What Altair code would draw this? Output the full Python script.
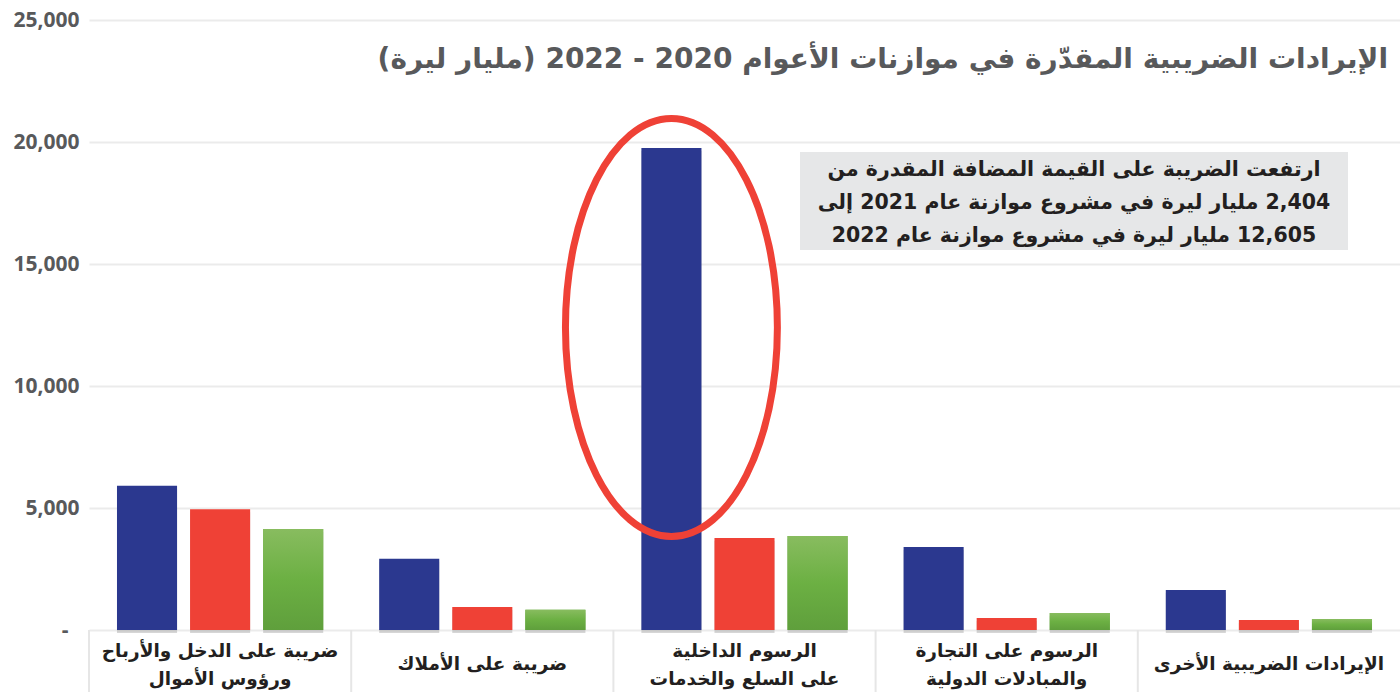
import altair as alt
import pandas as pd

RLE, PDF = "\u202b", "\u202c"


def rtl(s):
    return "\n".join(RLE + line + PDF for line in s.split("\n"))


categories = [
    "ضريبة على الدخل والأرباح\nورؤوس الأموال",
    "ضريبة على الأملاك",
    "الرسوم الداخلية\nعلى السلع والخدمات",
    "الرسوم على التجارة\nوالمبادلات الدولية",
    "الإيرادات الضريبية الأخرى",
]
series = ["2022", "2021", "2020"]
values_2022 = [5910, 2920, 19750, 3400, 1640]
values_2021 = [4950, 940, 3770, 490, 410]
values_2020 = [4140, 830, 3850, 700, 450]
y_ticks = [0, 5000, 10000, 15000, 20000, 25000]

title_text = "الإيرادات الضريبية المقدّرة في موازنات الأعوام 2020 - 2022 (مليار ليرة)"
note_lines = [
    "ارتفعت الضريبة على القيمة المضافة المقدرة من",
    "2,404 مليار ليرة في مشروع موازنة عام 2021 إلى",
    "12,605 مليار ليرة في مشروع موازنة عام 2022",
]
highlight_category = categories[2]
highlight_series = "2022"
highlight_center = 12400

cats = [rtl(c) for c in categories]
rows = []
for s, vals in zip(series, [values_2022, values_2021, values_2020]):
    for c, v in zip(cats, vals):
        rows.append({"cat": c, "series": s, "value": v})
df = pd.DataFrame(rows)

W, H = 1311, 610
AR_FONT = "DejaVu Sans"

x_enc = alt.X(
    "cat:N",
    sort=cats,
    scale=alt.Scale(paddingInner=0, paddingOuter=0),
    axis=alt.Axis(
        title=None,
        domain=False,
        ticks=False,
        labelAngle=0,
        labelPadding={
            "condition": {"test": "indexof(datum.value, '\\n') >= 0", "value": 20},
            "value": 33,
        },
        labelBaseline="middle",
        labelFont=AR_FONT,
        labelFontSize=18.5,
        labelFontWeight="bold",
        labelColor="#231f20",
        labelLineHeight=28,
        labelLimit=0,
        labelExpr="split(datum.label, '\\n')",
    ),
)
xo_enc = alt.XOffset(
    "series:N", sort=series, scale=alt.Scale(paddingInner=0.178, paddingOuter=0.383)
)
y_enc = alt.Y(
    "value:Q",
    scale=alt.Scale(domain=[0, 25000], nice=False),
    axis=alt.Axis(
        title=None,
        values=y_ticks,
        domain=False,
        ticks=False,
        grid=True,
        gridColor="#ebebeb",
        gridWidth=2,
        labelFont="Open Sans",
        labelFontSize=21,
        labelFontWeight="bold",
        labelColor="#58595b",
        labelPadding={
            "condition": {"test": "datum.value === 0", "value": 21},
            "value": 10,
        },
        labelExpr="datum.value === 0 ? '-' : format(datum.value, ',')",
    ),
)

base = alt.Chart(df)

shadow = base.mark_bar(color="#8a8a8a", opacity=0.35, xOffset=2, yOffset=3).encode(
    x=x_enc, xOffset=xo_enc, y=y_enc
)

bars = base.mark_bar().encode(
    x=x_enc,
    xOffset=xo_enc,
    y=y_enc,
    color=alt.Color(
        "series:N",
        sort=series,
        scale=alt.Scale(domain=series, range=["#2b388f", "#ef4136", "#6dae45"]),
        legend=None,
    ),
)

green = (
    base.transform_filter(alt.datum.series == "2020")
    .mark_bar(
        color=alt.Gradient(
            gradient="linear",
            stops=[
                alt.GradientStop(color="#88bc5f", offset=0),
                alt.GradientStop(color="#6cb043", offset=0.5),
                alt.GradientStop(color="#5f9f3c", offset=1),
            ],
            x1=0, x2=0, y1=0, y2=1,
        )
    )
    .encode(x=x_enc, xOffset=xo_enc, y=y_enc)
)

seps = (
    base.transform_filter(alt.datum.series == "2022")
    .mark_rule(color="#e6e6e6", strokeWidth=2)
    .encode(
        x=alt.X("cat:N", sort=cats, bandPosition=0),
        y=alt.value(H),
        y2=alt.value(H + 62),
    )
)

ell_df = pd.DataFrame(
    {"cat": [rtl(highlight_category)], "series": [highlight_series], "value": [highlight_center]}
)
ellipse_path = "M -0.507 0 A 0.507 1 0 1 1 0.507 0 A 0.507 1 0 1 1 -0.507 0 Z"
ellipse = (
    alt.Chart(ell_df)
    .mark_point(shape=ellipse_path, size=418 * 418, filled=False, stroke="#ef4136",
                strokeWidth=7, opacity=1)
    .encode(x=alt.X("cat:N", sort=cats), xOffset=alt.XOffset("series:N", sort=series), y="value:Q")
)

box = (
    alt.Chart(pd.DataFrame({"k": [0]}))
    .mark_rect(color="#e6e7e8")
    .encode(x=alt.value(711), x2=alt.value(1259), y=alt.value(132), y2=alt.value(230))
)
note = (
    alt.Chart(pd.DataFrame({"k": [0]}))
    .mark_text(
        text=[RLE + l + PDF for l in note_lines],
        font=AR_FONT, fontSize=20.5, fontWeight="bold", color="#231f20",
        align="center", baseline="middle", lineHeight=33,
    )
    .encode(x=alt.value(985), y=alt.value(150))
)
title = (
    alt.Chart(pd.DataFrame({"k": [0]}))
    .mark_text(
        text=RLE + title_text + PDF,
        font=AR_FONT, fontSize=28, fontWeight="bold", color="#58595b",
        align="right", baseline="middle",
    )
    .encode(x=alt.value(1299), y=alt.value(40))
)

chart = (
    alt.layer(shadow, bars, green, seps, ellipse, box, note, title)
    .properties(
        width=W,
        height=H,
        autosize=alt.AutoSizeParams(type="none"),
        padding={"left": 89, "top": 20, "right": 0, "bottom": 62},
        background="white",
    )
    .configure_view(stroke=None)
)

chart.save("out.html", embed_options={"renderer": "svg", "actions": False})
